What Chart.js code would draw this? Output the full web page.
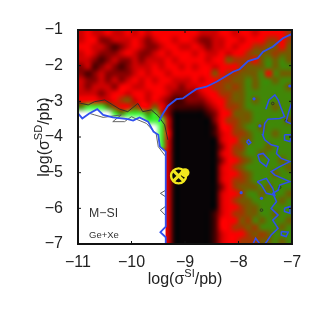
<!DOCTYPE html>
<html>
<head>
<meta charset="utf-8">
<style>
  html, body { margin: 0; padding: 0; background: #fff; }
  #chart { display: block; filter: blur(0.35px); }
</style>
<script src="https://cdn.jsdelivr.net/npm/chart.js@4/dist/chart.umd.min.js"></script>
</head>
<body>
<canvas id="chart" width="322" height="322"></canvas>
<script>
// --- axis ticks ---
const xTicks = [-11, -10, -9, -8, -7];
const yTicks = [-7, -6, -5, -4, -3, -2, -1];

// --- likelihood map, level per cell, top row first (0 black .. 4 red .. 7 green .. 9 white) ---
const r00 = [3,4,3,3,4,3,3,4,3,4,3,4,4,4,4,4,4,4,3,3,3,4,4,3,4,4,3,4,4,4,4,5];
const r01 = [3,4,4,2,2,3,3,3,4,3,2,3,4,4,3,4,4,3,2,2,3,3,4,4,3,4,4,4,5,5,4,5];
const r02 = [4,4,3,3,2,1,2,3,4,3,2,2,3,4,4,3,3,4,3,2,3,3,4,3,4,4,5,5,6,6,4,6];
const r03 = [3,4,3,2,2,2,3,4,3,2,2,3,4,3,4,4,4,3,4,3,3,4,3,4,4,5,6,6,6,5,6,6];
const r04 = [3,3,2,1,2,3,2,2,3,2,3,3,3,4,3,4,4,4,4,3,4,4,6,5,5,5,4,6,7,6,7,6];
const r05 = [2,3,1,2,3,2,1,2,3,3,3,4,3,4,4,3,4,3,4,4,3,4,4,4,5,6,6,6,7,6,7,7];
const r06 = [2,1,2,3,2,2,2,2,3,4,3,4,4,3,4,4,4,4,4,4,6,4,5,5,6,6,6,7,4,7,6,6];
const r07 = [3,2,2,3,2,3,2,3,4,3,4,3,4,4,3,3,3,4,3,4,4,5,5,6,6,7,6,7,7,6,7,7];
const r08 = [3,2,3,3,3,2,4,4,3,3,4,4,4,3,3,2,3,3,4,4,5,5,6,5,6,7,6,7,7,7,7,6];
const r09 = [3,3,3,2,3,4,4,3,4,4,3,4,4,3,2,2,2,2,3,4,4,5,5,6,6,7,7,7,7,7,7,7];
const r10 = [4,4,4,3,3,4,5,6,3,4,3,4,3,2,1,1,2,2,2,3,4,4,5,6,6,7,6,7,7,7,7,7];
const r11 = [7,8,8,8,7,5,4,4,6,4,4,6,4,2,1,1,1,1,1,2,3,4,5,5,6,7,7,7,7,6,7,7];
const r12 = [9,9,9,9,9,8,7,8,8,8,7,8,5,2,0,0,0,0,0,1,2,4,4,6,6,6,7,7,7,7,7,7];
const r13 = [9,9,9,9,9,9,9,9,9,9,8,8,8,3,0,0,0,0,0,0,2,4,5,5,6,6,7,7,7,7,7,6];
const r14 = [9,9,9,9,9,9,9,9,9,9,9,9,8,3,0,0,0,0,0,0,1,4,4,5,6,7,7,6,7,7,7,7];
const r15 = [9,9,9,9,9,9,9,9,9,9,9,9,8,4,0,0,0,0,0,0,1,3,4,5,5,6,7,7,7,6,7,7];
const r16 = [9,9,9,9,9,9,9,9,9,9,9,9,8,3,0,0,0,0,0,0,0,3,4,4,6,6,7,7,7,7,7,7];
const r17 = [9,9,9,9,9,9,9,9,9,9,9,9,8,3,0,0,0,0,0,0,0,2,4,5,5,7,7,7,6,7,7,7];
const r18 = [9,9,9,9,9,9,9,9,9,9,9,9,4,3,0,0,0,0,0,0,0,3,4,5,6,7,7,6,7,7,7,7];
const r19 = [9,9,9,9,9,9,9,9,9,9,9,9,4,3,0,0,0,0,0,0,0,2,4,4,5,6,7,7,7,7,6,7];
const r20 = [9,9,9,9,9,9,9,9,9,9,9,9,4,3,0,0,0,0,0,0,0,3,4,5,6,7,7,7,7,7,7,6];
const r21 = [9,9,9,9,9,9,9,9,9,9,9,9,4,3,0,0,0,0,0,0,0,3,4,4,5,6,7,7,7,6,7,7];
const r22 = [9,9,9,9,9,9,9,9,9,9,9,9,4,3,0,0,0,0,0,0,0,3,4,5,5,6,7,7,7,7,7,7];
const r23 = [9,9,9,9,9,9,9,9,9,9,9,9,4,3,0,0,0,0,0,0,0,2,4,5,6,6,6,7,6,7,7,7];
const r24 = [9,9,9,9,9,9,9,9,9,9,9,9,4,3,0,0,0,0,0,0,0,3,4,4,5,7,7,6,7,7,7,6];
const r25 = [9,9,9,9,9,9,9,9,9,9,9,9,4,3,0,0,0,0,0,0,0,3,4,5,6,6,7,7,7,7,6,7];
const r26 = [9,9,9,9,9,9,9,9,9,9,9,9,4,3,0,0,0,0,0,0,0,3,4,4,5,6,6,7,7,7,7,7];
const r27 = [9,9,9,9,9,9,9,9,9,9,9,9,4,3,0,0,0,0,0,0,1,3,4,5,5,6,6,7,7,6,7,7];
const r28 = [9,9,9,9,9,9,9,9,9,9,9,9,4,3,0,0,0,0,0,0,1,4,4,4,6,5,7,6,7,7,7,6];
const r29 = [9,9,9,9,9,9,9,9,9,9,9,9,4,3,0,0,0,0,0,0,1,4,4,5,5,6,5,7,7,7,6,7];
const r30 = [9,9,9,9,9,9,9,9,9,9,9,9,4,3,0,0,0,0,0,0,1,3,4,4,4,5,6,5,6,7,7,7];
const r31 = [9,9,9,9,9,9,9,9,9,9,9,9,4,3,0,0,0,0,0,0,1,3,4,4,5,5,5,6,6,7,6,7];
const heatRows = [r00,r01,r02,r03,r04,r05,r06,r07,r08,r09,r10,r11,r12,r13,r14,r15,
                  r16,r17,r18,r19,r20,r21,r22,r23,r24,r25,r26,r27,r28,r29,r30,r31];
const levelColors = [[8,4,6],[70,0,0],[135,0,0],[205,0,0],[250,0,0],[160,55,0],[115,90,0],[65,135,8],[60,240,50],[255,255,255]];

// --- contours (log sigma SI, log sigma SD) ---
const edgeX = [-11,-10.92,-10.79,-10.64,-10.53,-10.35,-10.07,-9.97,-9.85,-9.69,-9.59,-9.50,-9.47,-9.36,-9.36,-9.36,-9.46,-9.36,-9.36];
const edgeY = [-3.34,-3.48,-3.34,-3.22,-3.38,-3.45,-3.50,-3.54,-3.45,-3.57,-3.85,-3.94,-4.27,-4.41,-5.49,-6.51,-6.67,-6.81,-7];
const diagX = [-9.49,-9.41,-9.32,-9.16,-9.04,-8.91,-8.79,-8.60,-8.41,-8.23,-8.10,-7.98,-7.82,-7.64,-7.54,-7.36,-7.17,-7];
const diagY = [-3.57,-3.34,-3.13,-2.94,-2.92,-2.78,-2.66,-2.59,-2.45,-2.29,-2.17,-2.10,-1.87,-1.79,-1.61,-1.47,-1.23,-1.11];
const wiggleX = [-7.49,-7.43,-7.32,-7.26,-7.20,-7.14,-7.23,-7.45,-7.51,-7.54,-7.55,-7.51,-7.39,-7.26,-7.29,-7.20,-7.04,-7.23,-7.39,-7.32,-7.04,-7.23,-7.26,-7.36,-7.29,-7.39,-7.26,-7.36,-7.26,-7.39,-7.47,-7.51];
const wiggleY = [-3.22,-2.96,-2.82,-2.96,-3.20,-3.43,-3.48,-3.50,-3.62,-3.94,-3.94,-4.08,-4.22,-4.27,-4.46,-4.60,-4.69,-4.83,-4.97,-5.07,-5.25,-5.35,-5.49,-5.58,-5.81,-6,-6.19,-6.33,-6.56,-6.75,-6.93,-7];
const sideX = [-7,-7.06,-7.11,-7];
const sideY = [-3.01,-3.29,-3.57,-3.64];
const loopAX = [-7.14,-7,-7.04,-7.14,-7.14];
const loopAY = [-3.94,-3.94,-4.13,-4.08,-3.94];
const loopBX = [-7.64,-7.54,-7.43,-7.48,-7.60,-7.64];
const loopBY = [-4.50,-4.46,-4.64,-4.83,-4.69,-4.50];
const loopCX = [-7.65,-7.48,-7.36,-7.32,-7.48,-7.57,-7.65];
const loopCY = [-5.25,-5.16,-5.44,-5.63,-5.58,-5.35,-5.25];
const loopDX = [-7.85,-7.81,-7.77,-7.81,-7.85];
const loopDY = [-4.13,-4.08,-4.16,-4.21,-4.13];
const loopEX = [-7.14,-7.04,-7.04,-7.14,-7.14];
const loopEY = [-6,-5.95,-6.14,-6.09,-6];
const loopFX = [-7.20,-7.07,-7.11,-7.20,-7.20];
const loopFY = [-6.65,-6.67,-6.79,-6.75,-6.65];
const cornerX = [-7.73,-7.68,-7.60];
const cornerY = [-7,-6.84,-7];
const blueDotX = [-7.71,-7.60,-7.57,-7.95,-7.04];
const blueDotY = [-2.93,-3.69,-5.72,-5.56,-2.57];

const upperX = [-10.99,-10.81,-10.69,-10.50,-10.35,-10.22,-10.07,-9.88,-9.79,-9.63,-9.50,-9.38,-9.32];
const upperY = [-3.04,-3.10,-3.01,-2.96,-3.10,-3.22,-3.29,-3.06,-3.29,-3.24,-3.41,-3.66,-4.08];
const lowerX = [-10.78,-10.69,-10.53,-10.19,-10.35,-10.13,-10,-9.88,-9.72,-9.60,-9.54,-9.50,-9.37];
const lowerY = [-3.34,-3.38,-3.45,-3.38,-3.57,-3.57,-3.43,-3.52,-3.62,-3.82,-3.90,-4.27,-4.53];
const notchAX = [-9.37,-9.46,-9.37];
const notchAY = [-5.50,-5.58,-5.67];
const notchBX = [-9.37,-9.46,-9.37];
const notchBY = [-5.95,-6.05,-6.19];
const ringX = [-7.36,-7.23,-7.57,-7.11];
const ringY = [-3.06,-5.41,-6.05,-3.54];

// --- best fit marks ---
const bestX = [-9.12];
const bestY = [-5.09];
const meanX = [-9.0];
const meanY = [-5.0];

const BLUE = '#3050f0';
const DARK = '#2a2a2a';

function zip(xs, ys) { return xs.map((x, i) => ({ x: x, y: ys[i] })); }
function lineSet(xs, ys, color, width) {
    return { data: zip(xs, ys), showLine: true, borderColor: color, borderWidth: width, pointRadius: 0, tension: 0, fill: false };
}
function dotSet(xs, ys, opts) {
    return Object.assign({ data: zip(xs, ys), showLine: false }, opts);
}

// --- paints the map under everything, through the scales ---
const heatPlugin = {
    id: 'heat',
    beforeDatasetsDraw(chart) {
        const { ctx, chartArea, scales } = chart;
        const rows = heatRows.length, cols = heatRows[0].length;
        const off = document.createElement('canvas');
        off.width = cols; off.height = rows;
        const octx = off.getContext('2d');
        const img = octx.createImageData(cols, rows);
        heatRows.forEach((row, j) => row.forEach((v, i) => {
            const c = levelColors[v], k = (j * cols + i) * 4;
            img.data[k] = c[0]; img.data[k + 1] = c[1]; img.data[k + 2] = c[2]; img.data[k + 3] = 255;
        }));
        octx.putImageData(img, 0, 0);
        const left = scales.x.getPixelForValue(xTicks[0]);
        const right = scales.x.getPixelForValue(xTicks[xTicks.length - 1]);
        const top = scales.y.getPixelForValue(yTicks[yTicks.length - 1]);
        const bottom = scales.y.getPixelForValue(yTicks[0]);
        ctx.save();
        ctx.beginPath();
        ctx.rect(chartArea.left, chartArea.top, chartArea.width, chartArea.height);
        ctx.clip();
        ctx.imageSmoothingEnabled = true;
        ctx.imageSmoothingQuality = 'high';
        ctx.drawImage(off, left, top, right - left, bottom - top);
        ctx.restore();
    }
};

// --- frame, inward ticks, titles with superscripts, panel labels ---
const framePlugin = {
    id: 'frame',
    afterDraw(chart) {
        const { ctx, chartArea: a, scales } = chart;
        ctx.save();
        ctx.strokeStyle = '#111';
        ctx.lineWidth = 1;
        ctx.beginPath();
        xTicks.forEach(v => {
            const p = scales.x.getPixelForValue(v);
            ctx.moveTo(p, a.bottom); ctx.lineTo(p, a.bottom - 3);
            ctx.moveTo(p, a.top); ctx.lineTo(p, a.top + 3);
        });
        yTicks.forEach(v => {
            const p = scales.y.getPixelForValue(v);
            ctx.moveTo(a.left, p); ctx.lineTo(a.left + 3, p);
            ctx.moveTo(a.right, p); ctx.lineTo(a.right - 3, p);
        });
        ctx.stroke();
        ctx.lineWidth = 2;
        ctx.strokeRect(a.left, a.top, a.width, a.height);

        ctx.fillStyle = '#222';
        ctx.textBaseline = 'alphabetic';
        ctx.textAlign = 'left';
        drawSup(ctx, 'log(\u03c3', 'SI', '/pb)', 185, 284, false);
        drawSup(ctx, 'log(\u03c3', 'SD', '/pb)', 49, 137, true);

        ctx.fillStyle = '#333';
        ctx.font = '12.3px "Liberation Sans"';
        ctx.fillText('M\u2212SI', 89, 217);
        ctx.font = '9.5px "Liberation Sans"';
        ctx.fillText('Ge+Xe', 89, 238);
        ctx.restore();
    }
};

function drawSup(ctx, before, sup, after, cx, cy, rotated) {
    const big = '16px "Liberation Sans"', small = '11px "Liberation Sans"';
    ctx.font = big;
    const w1 = ctx.measureText(before).width, w3 = ctx.measureText(after).width;
    ctx.font = small;
    const w2 = ctx.measureText(sup).width;
    const start = -(w1 + w2 + w3) / 2;
    ctx.save();
    ctx.translate(cx, cy);
    if (rotated) ctx.rotate(-Math.PI / 2);
    ctx.font = big;
    ctx.fillText(before, start, 0);
    ctx.fillText(after, start + w1 + w2, 0);
    ctx.font = small;
    ctx.fillText(sup, start + w1, -7);
    ctx.restore();
}

const tickFont = { family: '"Liberation Sans"', size: 16 };
const minusLabel = v => '\u2212' + Math.abs(v);

new Chart(document.getElementById('chart').getContext('2d'), {
    type: 'scatter',
    data: {
        datasets: [
            dotSet(meanX, meanY, { pointStyle: 'circle', pointRadius: 4.5, backgroundColor: '#f2e81e', borderWidth: 0 }),
            dotSet(bestX, bestY, { pointStyle: 'crossRot', pointRadius: 7.5, borderColor: '#f2e81e', borderWidth: 3 }),
            dotSet(bestX, bestY, { pointStyle: 'circle', pointRadius: 7.5, backgroundColor: '#0a0a0a', borderColor: '#f2e81e', borderWidth: 2.4 }),
            lineSet(diagX, diagY, BLUE, 1.8),
            lineSet(edgeX, edgeY, BLUE, 1.8),
            lineSet(wiggleX, wiggleY, BLUE, 1.5),
            lineSet(sideX, sideY, BLUE, 1.5),
            lineSet(loopAX, loopAY, BLUE, 1.5),
            lineSet(loopBX, loopBY, BLUE, 1.5),
            lineSet(loopCX, loopCY, BLUE, 1.5),
            lineSet(loopDX, loopDY, BLUE, 1.5),
            lineSet(loopEX, loopEY, BLUE, 1.5),
            lineSet(loopFX, loopFY, BLUE, 1.5),
            lineSet(cornerX, cornerY, BLUE, 1.5),
            dotSet(blueDotX, blueDotY, { pointStyle: 'circle', pointRadius: 1.6, backgroundColor: BLUE, borderWidth: 0 }),
            lineSet(upperX, upperY, DARK, 0.9),
            lineSet(lowerX, lowerY, '#555', 0.9),
            lineSet(notchAX, notchAY, '#444', 0.9),
            lineSet(notchBX, notchBY, '#444', 0.9),
            dotSet(ringX, ringY, { pointStyle: 'circle', pointRadius: 1.3, backgroundColor: 'transparent', borderColor: DARK, borderWidth: 0.8 }),
            // no-data corner, painted first
            Object.assign(lineSet(edgeX, edgeY, BLUE, 0), { fill: 'start', backgroundColor: '#ffffff' })
        ]
    },
    options: {
        responsive: false,
        animation: false,
        layout: { padding: { top: 30, right: 30, left: 0, bottom: 0 } },
        plugins: { legend: { display: false }, tooltip: { enabled: false } },
        scales: {
            x: {
                type: 'linear', min: -11, max: -7,
                afterBuildTicks: s => { s.ticks = xTicks.map(v => ({ value: v })); },
                afterFit: s => { s.height = 78; },
                grid: { display: false },
                border: { display: false },
                ticks: { color: '#222', font: tickFont, padding: 1, maxRotation: 0, autoSkip: false, callback: minusLabel }
            },
            y: {
                type: 'linear', min: -7, max: -1,
                afterBuildTicks: s => { s.ticks = yTicks.map(v => ({ value: v })); },
                afterFit: s => { s.width = 78; },
                grid: { display: false },
                border: { display: false },
                ticks: { color: '#222', font: tickFont, padding: 7, autoSkip: false, callback: minusLabel }
            }
        }
    },
    plugins: [heatPlugin, framePlugin]
});
</script>
</body>
</html>
